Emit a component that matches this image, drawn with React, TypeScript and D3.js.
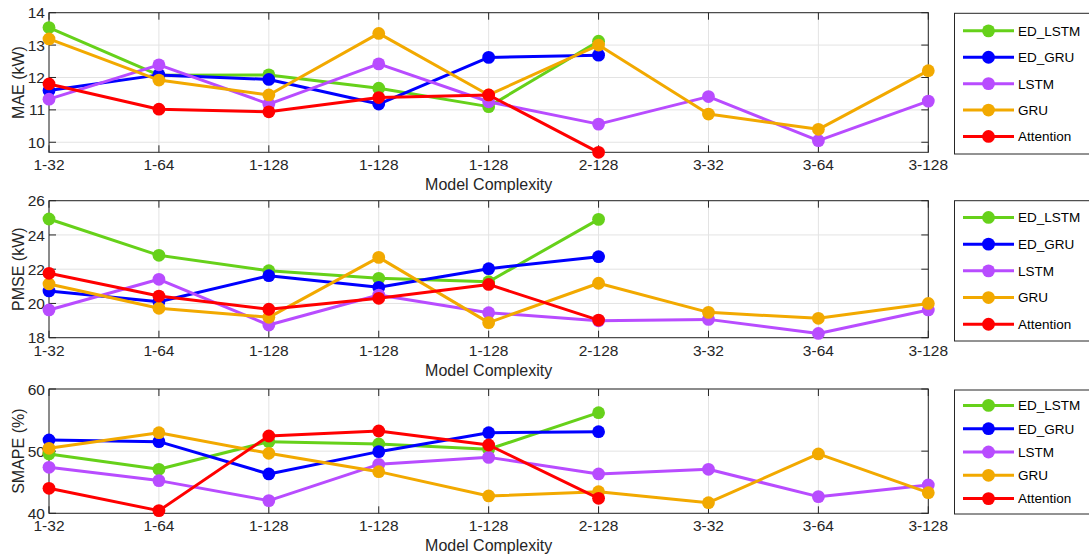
import React from 'react';
import * as d3 from 'd3';

const categories = ['1-32', '1-64', '1-128', '1-128', '1-128', '2-128', '3-32', '3-64', '3-128'];
const seriesNames = ['ED_LSTM', 'ED_GRU', 'LSTM', 'GRU', 'Attention'];
const seriesColors = ['#66d11a', '#0000ff', '#b84cff', '#f2a900', '#ff0000'];

type V = number | null;

// MAE (kW)
const maeEDLSTM: V[] = [13.54, 12.07, 12.08, 11.67, 11.1, 13.12, null, null, null];
const maeEDGRU: V[] = [11.6, 12.08, 11.94, 11.18, 12.62, 12.69, null, null, null];
const maeLSTM: V[] = [11.33, 12.39, 11.18, 12.42, 11.25, 10.56, 11.41, 10.05, 11.27];
const maeGRU: V[] = [13.19, 11.92, 11.46, 13.36, 11.46, 13.0, 10.87, 10.4, 12.21];
const maeAttention: V[] = [11.8, 11.02, 10.94, 11.38, 11.46, 9.69, null, null, null];
const maeTicks = [10, 11, 12, 13, 14];

// PMSE (kW)
const pmseEDLSTM: V[] = [24.93, 22.81, 21.91, 21.47, 21.27, 24.91, null, null, null];
const pmseEDGRU: V[] = [20.73, 20.1, 21.62, 20.94, 22.03, 22.73, null, null, null];
const pmseLSTM: V[] = [19.62, 21.41, 18.74, 20.49, 19.46, 18.99, 19.07, 18.25, 19.62];
const pmseGRU: V[] = [21.14, 19.72, 19.19, 22.69, 18.88, 21.18, 19.48, 19.13, 20.0];
const pmseAttention: V[] = [21.76, 20.43, 19.66, 20.3, 21.11, 19.03, null, null, null];
const pmseTicks = [18, 20, 22, 24, 26];

// SMAPE (%)
const smapeEDLSTM: V[] = [49.55, 47.08, 51.53, 51.15, 50.3, 56.19, null, null, null];
const smapeEDGRU: V[] = [51.8, 51.53, 46.33, 49.92, 52.97, 53.13, null, null, null];
const smapeLSTM: V[] = [47.4, 45.26, 42.04, 47.88, 49.0, 46.33, 47.08, 42.68, 44.56];
const smapeGRU: V[] = [50.46, 52.97, 49.65, 46.7, 42.79, 43.48, 41.71, 49.55, 43.32];
const smapeAttention: V[] = [44.02, 40.43, 52.44, 53.24, 50.99, 42.41, null, null, null];
const smapeTicks = [40, 50, 60];

const panels = [
  {
    ylabel: 'MAE (kW)', domain: [9.69, 14], ticks: maeTicks,
    data: [maeEDLSTM, maeEDGRU, maeLSTM, maeGRU, maeAttention],
    top: 12.7, bottom: 152.3, legTop: 13.3, legBottom: 154, legStep: 26.4,
  },
  {
    ylabel: 'PMSE (kW)', domain: [18, 26], ticks: pmseTicks,
    data: [pmseEDLSTM, pmseEDGRU, pmseLSTM, pmseGRU, pmseAttention],
    top: 200.7, bottom: 337.7, legTop: 200.7, legBottom: 341, legStep: 26.7,
  },
  {
    ylabel: 'SMAPE (%)', domain: [40, 60], ticks: smapeTicks,
    data: [smapeEDLSTM, smapeEDGRU, smapeLSTM, smapeGRU, smapeAttention],
    top: 389, bottom: 513.3, legTop: 390, legBottom: 514, legStep: 23.3,
  },
];

const LEFT = 49;
const RIGHT = 928.3;
const AX = '#262626';
const FONT = '"Liberation Sans", Arial, sans-serif';

function Panel({ p }: { p: typeof panels[number] }) {
  const x = d3.scalePoint<number>().domain(categories.map((_, i) => i)).range([LEFT, RIGHT]);
  const y = d3.scaleLinear().domain(p.domain).range([p.bottom, p.top]);
  const line = d3.line<V>()
    .defined((d) => d !== null)
    .x((_, i) => x(i) as number)
    .y((d) => y(d as number));
  const tickLen = 7;
  const legX = 954.5;
  const legMid = (p.legTop + p.legBottom) / 2;
  return (
    <g>
      {categories.map((_, i) => (
        <line key={'gx' + i} x1={x(i)} x2={x(i)} y1={p.top} y2={p.bottom} stroke="#e3e3e3" strokeWidth={1} />
      ))}
      {p.ticks.map((t) => (
        <line key={'gy' + t} x1={LEFT} x2={RIGHT} y1={y(t)} y2={y(t)} stroke="#e3e3e3" strokeWidth={1} />
      ))}
      <rect x={LEFT} y={p.top} width={RIGHT - LEFT} height={p.bottom - p.top} fill="none" stroke={AX} strokeWidth={1} />
      {categories.map((_, i) => (
        <g key={'tx' + i}>
          <line x1={x(i)} x2={x(i)} y1={p.bottom} y2={p.bottom - tickLen} stroke={AX} />
          <line x1={x(i)} x2={x(i)} y1={p.top} y2={p.top + tickLen} stroke={AX} />
        </g>
      ))}
      {p.ticks.map((t) => (
        <g key={'ty' + t}>
          <line x1={LEFT} x2={LEFT + tickLen} y1={y(t)} y2={y(t)} stroke={AX} />
          <line x1={RIGHT} x2={RIGHT - tickLen} y1={y(t)} y2={y(t)} stroke={AX} />
          <text x={LEFT - 4} y={y(t)} dy="0.36em" textAnchor="end" fontSize={15.5} fill={AX} fontFamily={FONT}>{t}</text>
        </g>
      ))}
      {categories.map((c, i) => (
        <text key={'lx' + i} x={x(i)} y={p.bottom + 18} textAnchor="middle" fontSize={15.5} fill={AX} fontFamily={FONT}>{c}</text>
      ))}
      <text x={(LEFT + RIGHT) / 2} y={p.bottom + 38} textAnchor="middle" fontSize={16} fill={AX} fontFamily={FONT}>Model Complexity</text>
      <text transform={`translate(18,${(p.top + p.bottom) / 2}) rotate(-90)`} dy="0.36em" textAnchor="middle" fontSize={16} fill={AX} fontFamily={FONT}>{p.ylabel}</text>
      {p.data.map((s, si) => (
        <g key={'s' + si}>
          <path d={line(s) || ''} fill="none" stroke={seriesColors[si]} strokeWidth={3} strokeLinejoin="round" />
          {s.map((v, i) => v === null ? null : (
            <circle key={i} cx={x(i)} cy={y(v)} r={6.4} fill={seriesColors[si]} />
          ))}
        </g>
      ))}
      <rect x={legX} y={p.legTop} width={150} height={p.legBottom - p.legTop} fill="#fff" stroke={AX} strokeWidth={1} />
      {seriesNames.map((n, i) => {
        const ly = legMid + (i - 2) * p.legStep;
        return (
          <g key={'lg' + i}>
            <line x1={963} x2={1014} y1={ly} y2={ly} stroke={seriesColors[i]} strokeWidth={3} />
            <circle cx={988.5} cy={ly} r={6.4} fill={seriesColors[i]} />
            <text x={1018} y={ly} dy="0.36em" fontSize={13.5} fill="#000" fontFamily={FONT}>{n}</text>
          </g>
        );
      })}
    </g>
  );
}

export default function App() {
  return (
    <svg width={1089} height={559} style={{ position: 'absolute', left: 0, top: 0, background: '#fff' }}>
      <rect x={0} y={0} width={1089} height={559} fill="#fff" />
      {panels.map((p, i) => <Panel key={i} p={p} />)}
    </svg>
  );
}
